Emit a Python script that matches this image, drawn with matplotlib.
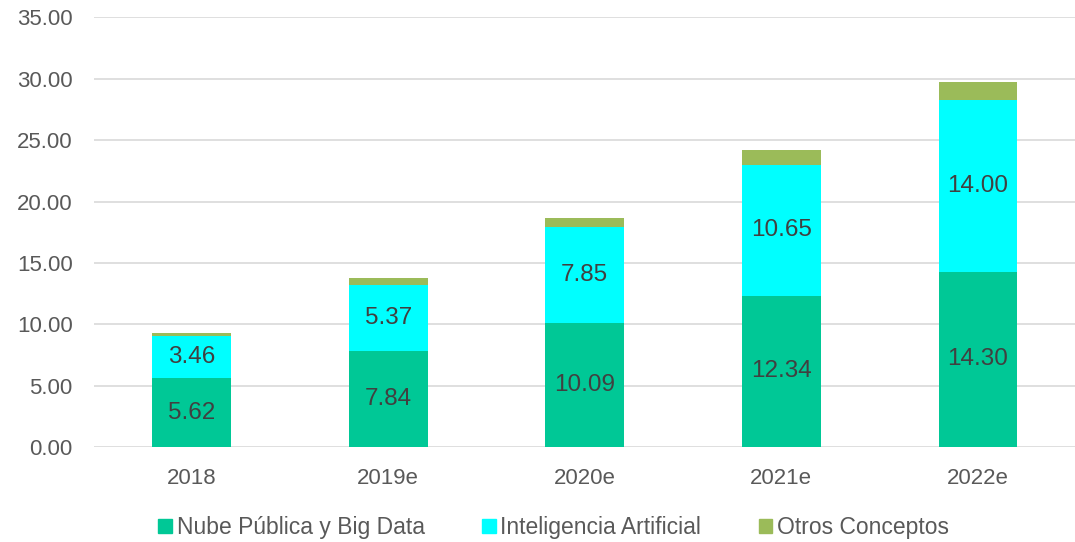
import numpy as np
import matplotlib.pyplot as plt
from matplotlib.patches import Patch

plt.rcParams['font.family'] = ['Liberation Sans', 'DejaVu Sans']

# Spending by segment and year
years = ['2018', '2019e', '2020e', '2021e', '2022e']
nube = [5.62, 7.84, 10.09, 12.34, 14.30]
ia = [3.46, 5.37, 7.85, 10.65, 14.00]
otros = [0.20, 0.55, 0.70, 1.20, 1.45]

labels = ['Nube Pública y Big Data', 'Inteligencia Artificial', 'Otros Conceptos']
colors = ['#00C896', '#00FFFF', '#9BBB59']

fig = plt.figure(figsize=(10.75, 5.42), dpi=100)
ax = fig.add_axes([0.087, 0.175, 0.914, 0.793])

x = np.arange(len(years))
w = 0.40
b1 = ax.bar(x, nube, w, color=colors[0], zorder=2)
b2 = ax.bar(x, ia, w, bottom=nube, color=colors[1], zorder=2)
ax.bar(x, otros, w, bottom=np.add(nube, ia), color=colors[2], zorder=2)

for bars in (b1, b2):
    ax.bar_label(bars, fmt='%.2f', label_type='center', fontsize=17.5, color='#404040')

ax.set_ylim(0, 35)
ax.set_xlim(-0.5, len(years) - 0.5)
ax.set_yticks(np.arange(0, 35.1, 5))
ax.set_yticklabels([f'{v:.2f}' for v in np.arange(0, 35.1, 5)])
ax.set_xticks(x)
ax.set_xticklabels(years)
ax.tick_params(axis='both', length=0, labelsize=16, colors='#595959')
ax.tick_params(axis='y', pad=15)
ax.tick_params(axis='x', pad=15)
ax.yaxis.grid(True, color='#D9D9D9', linewidth=1.2, zorder=0)
for s in ax.spines.values():
    s.set_visible(False)

handles = [Patch(color=c) for c in colors]
fig.legend(handles, labels, loc='lower center', bbox_to_anchor=(0.515, -0.033), ncol=3,
           frameon=False, fontsize=16.5, labelcolor='#595959', handlelength=0.6,
           handleheight=0.6, handletextpad=0.2, columnspacing=2.5)

fig.savefig('out.png')
